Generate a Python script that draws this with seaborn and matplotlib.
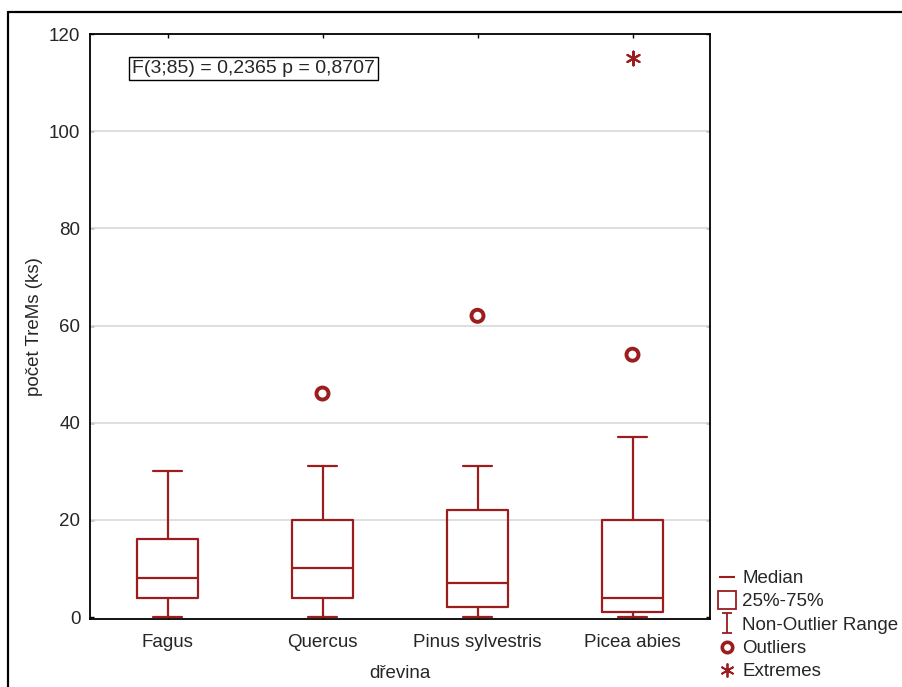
import numpy as np
import pandas as pd
import matplotlib
matplotlib.use("Agg")
import matplotlib.pyplot as plt
from matplotlib.lines import Line2D
from matplotlib.path import Path
import seaborn as sns

# ---- data ----
categories = ["Fagus", "Quercus", "Pinus sylvestris", "Picea abies"]
whisker_low = [0, 0, 0, 0]
q1_values = [4, 4, 2, 1]
median_values = [8, 10, 7, 4]
q3_values = [16, 20, 22, 20]
whisker_high = [30, 31, 31, 37]
outlier_cats = ["Quercus", "Pinus sylvestris", "Picea abies"]
outlier_values = [46, 62, 54]
extreme_cats = ["Picea abies"]
extreme_values = [115]
y_ticks = [0, 20, 40, 60, 80, 100, 120]
annotation = "F(3;85) = 0,2365 p = 0,8707"
x_label = "dřevina"
y_label = "počet TreMs (ks)"
legend_labels = ["Median", "25%-75%", "Non-Outlier Range", "Outliers", "Extremes"]

RED = "#9b1d1d"
FS = 13.5

sns.set_style("white")
plt.rcParams["font.family"] = ["Liberation Sans", "DejaVu Sans"]
plt.rcParams["font.size"] = FS

fig = plt.figure(figsize=(9.02, 6.87), dpi=100)
ax = fig.add_axes([90 / 902, 1 - 619 / 687, 620 / 902, 585 / 687])

stats = []
for i, c in enumerate(categories):
    stats.append(dict(label=c, whislo=whisker_low[i], q1=q1_values[i],
                      med=median_values[i], q3=q3_values[i],
                      whishi=whisker_high[i], fliers=[]))

lp = dict(color=RED, linewidth=1.6)
ax.bxp(stats, positions=range(len(categories)), widths=0.39, capwidths=0.19,
       showfliers=False, boxprops=lp, medianprops=lp, whiskerprops=lp,
       capprops=lp, manage_ticks=False, zorder=3)

pos = {c: i for i, c in enumerate(categories)}
df_out = pd.DataFrame({"x": [pos[c] for c in outlier_cats], "y": outlier_values})
df_ext = pd.DataFrame({"x": [pos[c] for c in extreme_cats], "y": extreme_values})
sns.scatterplot(data=df_out, x="x", y="y", ax=ax, marker="o", s=75,
                facecolor="none", edgecolor=RED, linewidth=2.8, zorder=4)
sns.scatterplot(data=df_ext, x="x", y="y", ax=ax, marker=(6, 2, 0), s=100,
                color=RED, linewidth=1.5, zorder=4)

ax.set_xlim(-0.5, len(categories) - 0.5)
ax.set_ylim(-0.4, 120)
ax.set_yticks(y_ticks)
ax.set_xticks(range(len(categories)))
ax.set_xticklabels(categories)
ax.set_xlabel(x_label, fontsize=FS, labelpad=10)
ax.set_ylabel(y_label, fontsize=FS, labelpad=4)
for yv in y_ticks[1:-1]:
    ax.axhline(yv, color="#dcdcdc", linewidth=1.3, zorder=1)

ax.tick_params(axis="both", direction="in", length=3, width=1, color="black",
               top=True, right=True, bottom=True, left=True, labelsize=FS)
ax.tick_params(axis="x", pad=11)
ax.tick_params(axis="y", pad=7)
for sp in ax.spines.values():
    sp.set_visible(True)
    sp.set_color("black")
    sp.set_linewidth(1.3)

ax.text(0.068, 0.955, annotation, transform=ax.transAxes, fontsize=14,
        va="top", ha="left",
        bbox=dict(boxstyle="square,pad=0.15", facecolor="white",
                  edgecolor="black", linewidth=1))

# legend
ibeam = Path([(-0.5, -1), (0.5, -1), (0, -1), (0, 1), (-0.5, 1), (0.5, 1)],
             [Path.MOVETO, Path.LINETO, Path.MOVETO, Path.LINETO,
              Path.MOVETO, Path.LINETO])
handles = [
    Line2D([], [], linestyle="none", marker="_", markersize=12,
           markeredgecolor=RED, markeredgewidth=1.5),
    Line2D([], [], linestyle="none", marker="s", markersize=13,
           markerfacecolor="none", markeredgecolor=RED, markeredgewidth=1.3),
    Line2D([], [], linestyle="none", marker=ibeam, markersize=14,
           markerfacecolor="none", markeredgecolor=RED, markeredgewidth=1.3),
    Line2D([], [], linestyle="none", marker="o", markersize=7.5,
           markerfacecolor="none", markeredgecolor=RED, markeredgewidth=2.6),
    Line2D([], [], linestyle="none", marker=(6, 2, 0), markersize=10,
           markeredgecolor=RED, markeredgewidth=1.3),
]
fig.legend(handles, legend_labels, loc="upper left",
           bbox_to_anchor=(719 / 902, 1 - 570 / 687), frameon=False,
           fontsize=FS, handlelength=0.8, handletextpad=0.45,
           labelspacing=0.33, borderaxespad=0, borderpad=0)

# outer frame lines (top and left)
fig.add_artist(Line2D([8 / 902, 1.0], [1 - 12 / 687, 1 - 12 / 687],
                      transform=fig.transFigure, color="black", linewidth=1.6))
fig.add_artist(Line2D([8 / 902, 8 / 902], [0.0, 1 - 12 / 687],
                      transform=fig.transFigure, color="black", linewidth=1.6))

fig.savefig("out.png", dpi=100)
